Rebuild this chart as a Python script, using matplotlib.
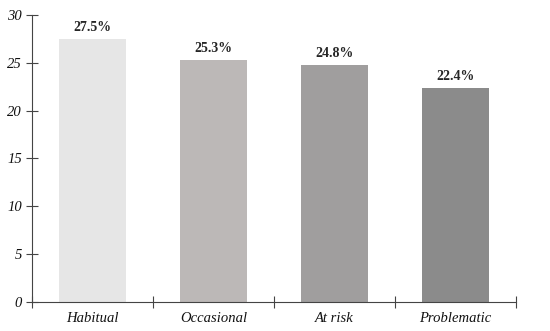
import matplotlib
matplotlib.use("Agg")
from matplotlib import pyplot as plt

categories = ["Habitual", "Occasional", "At risk", "Problematic"]
values = [27.5, 25.3, 24.8, 22.4]
labels = ["27.5%", "25.3%", "24.8%", "22.4%"]
colors = ["#e6e6e6", "#bcb8b7", "#a09e9e", "#8b8b8b"]

plt.rcParams["font.family"] = ["Liberation Serif", "DejaVu Serif"]

fig = plt.figure(figsize=(5.5, 3.31), dpi=100)
ax = fig.add_axes([0.058, 0.088, 0.88, 0.867])

x = range(len(categories))
ax.bar(x, values, width=0.55, color=colors)
for i, (v, lab) in enumerate(zip(values, labels)):
    ax.text(i, v + 0.5, lab, ha="center", va="bottom", fontsize=10,
            fontweight="bold", color="#262626")

ax.set_xlim(-0.5, 3.5)
ax.set_ylim(0, 30)
ax.set_yticks(range(0, 31, 5))
ax.set_yticklabels([str(t) for t in range(0, 31, 5)], fontstyle="italic",
                   fontsize=10.5, color="#111111")
ax.set_xticks([-0.5, 0.5, 1.5, 2.5, 3.5])
ax.set_xticklabels([])
ax.set_xticks(list(x), minor=True)
ax.set_xticklabels(categories, minor=True, fontstyle="italic", fontsize=10.5,
                   color="#111111")
ax.tick_params(axis="x", which="minor", length=0, pad=7)
ax.tick_params(axis="x", which="major", direction="inout", length=8,
               color="#444444")
ax.tick_params(axis="y", direction="inout", length=8, color="#444444", pad=3)

for s in ["top", "right"]:
    ax.spines[s].set_visible(False)
for s in ["left", "bottom"]:
    ax.spines[s].set_color("#444444")

fig.savefig("out.png", dpi=100)
